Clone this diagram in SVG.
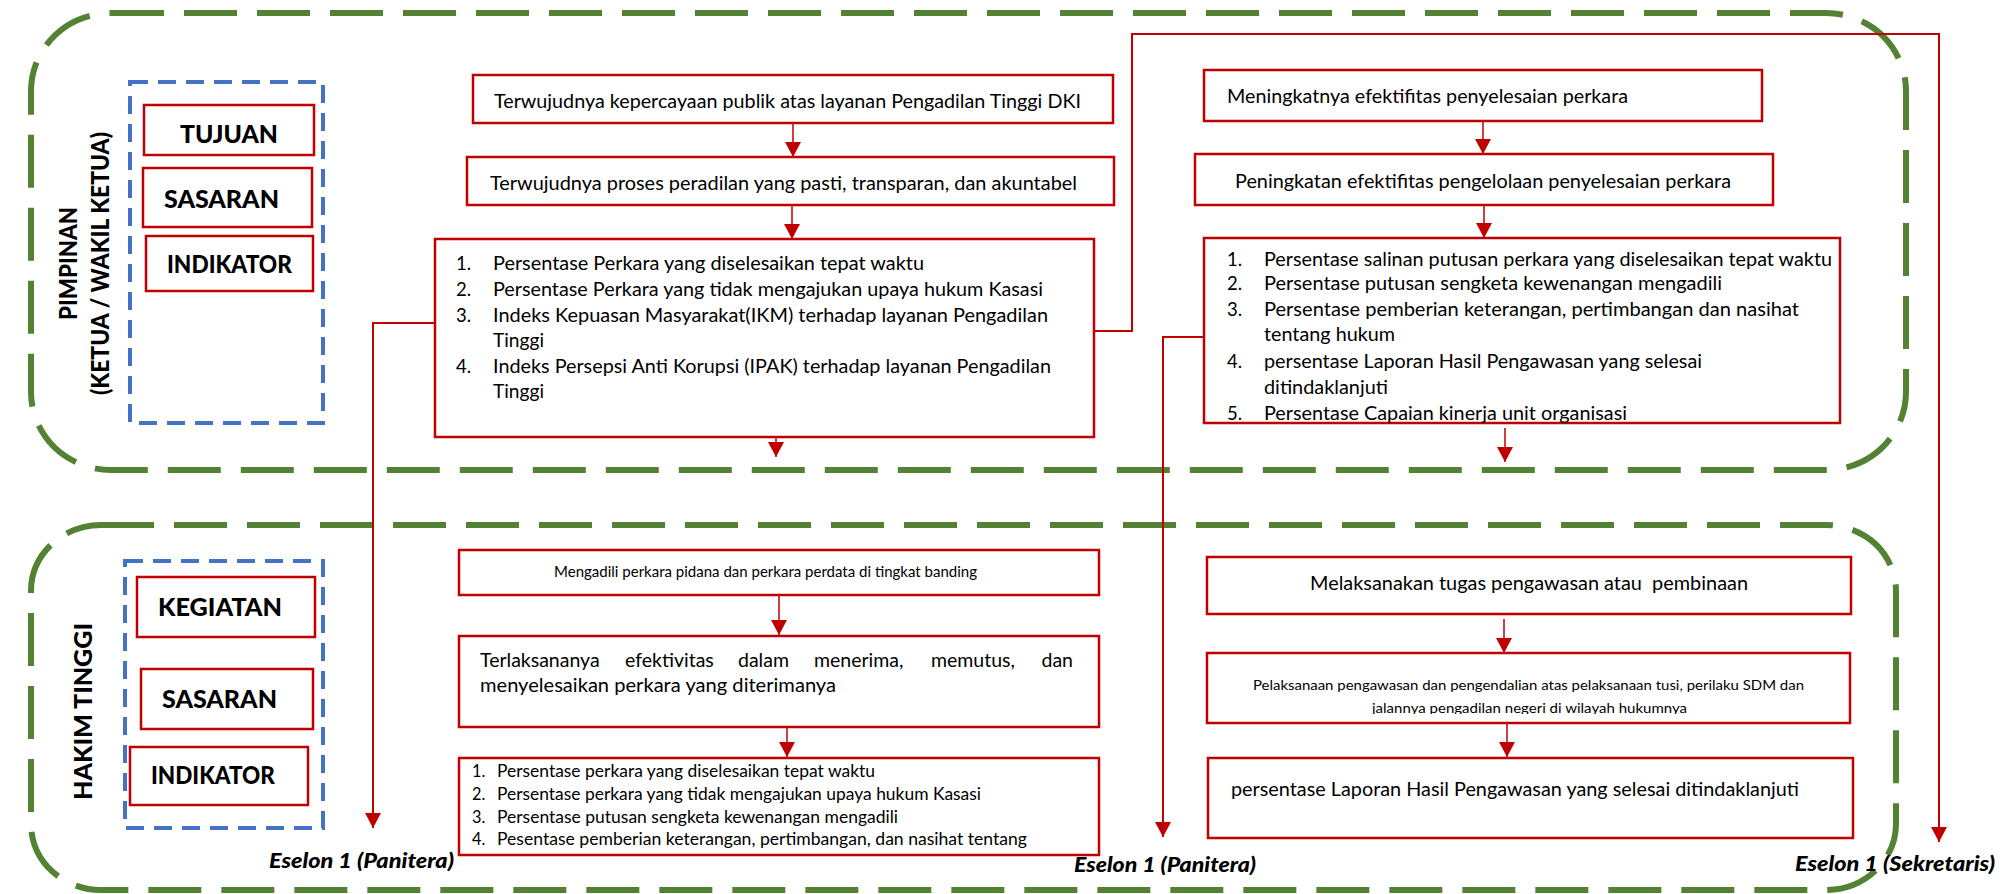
<svg xmlns="http://www.w3.org/2000/svg" width="2010" height="894" viewBox="0 0 2010 894">
<style>
.grp{fill:none;stroke:#548235;stroke-width:6;stroke-dasharray:53 20}
.blu{fill:none;stroke:#4472C4;stroke-width:4;stroke-dasharray:18 10}
.box{fill:#fff;stroke:#C00000;stroke-width:2.5}
.con{fill:none;stroke:#C00000;stroke-width:2}
.stem{fill:none;stroke:#C00000;stroke-width:1.5}
text{font-family:Lato,"Liberation Sans",sans-serif;fill:#000}
.lbl{font-weight:900;font-size:25px;text-anchor:middle}
.t20{font-size:19.5px}
.t18{font-size:18.5px}
.t16{font-size:16.3px}
.t15{font-size:15px}
.t14{font-size:14px}
.es{font-weight:900;font-style:italic;font-size:20px}
</style>
<defs>
<marker id="ah" viewBox="0 0 15 16" markerWidth="15" markerHeight="16" refX="15" refY="8" orient="auto" markerUnits="userSpaceOnUse">
<path d="M0,0 L15,8 L0,16 z" fill="#C00000"/>
</marker>
<clipPath id="c2clip"><rect x="1207" y="653" width="643" height="61"/></clipPath>
</defs>

<g id="frames">
<rect class="grp" x="31" y="13" width="1875" height="457" rx="80" ry="78"/>
<rect class="grp" x="31" y="525" width="1865" height="365" rx="70" ry="66"/>
</g>

<g id="pimpinan-label">
<text class="lbl" transform="translate(77,263.5) rotate(-90)" font-size="23" textLength="113" lengthAdjust="spacingAndGlyphs">PIMPINAN</text>
<text class="lbl" transform="translate(109,263.5) rotate(-90)" font-size="23" textLength="263" lengthAdjust="spacingAndGlyphs">(KETUA / WAKIL KETUA)</text>
</g>
<g id="hakim-label">
<text class="lbl" transform="translate(92,711.5) rotate(-90)" font-size="26" textLength="177" lengthAdjust="spacingAndGlyphs">HAKIM TINGGI</text>
</g>

<g id="legend-top">
<rect class="blu" x="130" y="82" width="193" height="341"/>
<g id="tujuan"><rect class="box" x="144" y="105" width="170" height="50"/><text class="lbl" x="229" y="143" textLength="98" lengthAdjust="spacingAndGlyphs">TUJUAN</text></g>
<g id="sasaran-top"><rect class="box" x="143" y="168" width="169" height="59"/><text class="lbl" x="221.5" y="208" textLength="115" lengthAdjust="spacingAndGlyphs">SASARAN</text></g>
<g id="indikator-top"><rect class="box" x="146" y="236" width="167" height="55"/><text class="lbl" x="229.5" y="273" textLength="125" lengthAdjust="spacingAndGlyphs">INDIKATOR</text></g>
</g>

<g id="legend-bottom">
<rect class="blu" x="125" y="561" width="198" height="267"/>
<g id="kegiatan"><rect class="box" x="137" y="577" width="178" height="60"/><text class="lbl" x="220" y="616" font-size="26" textLength="124" lengthAdjust="spacingAndGlyphs">KEGIATAN</text></g>
<g id="sasaran-bottom"><rect class="box" x="141" y="669" width="172" height="60"/><text class="lbl" x="219.5" y="708" font-size="26" textLength="115" lengthAdjust="spacingAndGlyphs">SASARAN</text></g>
<g id="indikator-bottom"><rect class="box" x="130" y="747" width="178" height="58"/><text class="lbl" x="213" y="784" font-size="26" textLength="124" lengthAdjust="spacingAndGlyphs">INDIKATOR</text></g>
</g>

<g id="connectors">
<polyline class="con" points="436,323 373,323 373,828" marker-end="url(#ah)"/>
<polyline class="con" points="1094,331 1132,331 1132,34 1939,34 1939,842" marker-end="url(#ah)"/>
<polyline class="con" points="1204,337 1163,337 1163,837" marker-end="url(#ah)"/>
<line class="stem" x1="793" y1="123" x2="793" y2="157" marker-end="url(#ah)"/>
<line class="stem" x1="792" y1="205" x2="792" y2="239" marker-end="url(#ah)"/>
<line class="stem" x1="776" y1="423" x2="776" y2="457" marker-end="url(#ah)"/>
<line class="stem" x1="1483" y1="121" x2="1483" y2="154" marker-end="url(#ah)"/>
<line class="stem" x1="1484" y1="205" x2="1484" y2="238" marker-end="url(#ah)"/>
<line class="stem" x1="1505" y1="428" x2="1505" y2="462" marker-end="url(#ah)"/>
<line class="stem" x1="779" y1="595" x2="779" y2="635" marker-end="url(#ah)"/>
<line class="stem" x1="787" y1="727" x2="787" y2="757" marker-end="url(#ah)"/>
<line class="stem" x1="1504" y1="619" x2="1504" y2="653" marker-end="url(#ah)"/>
<line class="stem" x1="1507" y1="723" x2="1507" y2="757" marker-end="url(#ah)"/>
</g>

<g id="tujuan-1">
<rect class="box" x="473" y="75" width="640" height="48"/>
<text class="t20" x="494" y="108" textLength="587" lengthAdjust="spacingAndGlyphs">Terwujudnya kepercayaan publik atas layanan Pengadilan Tinggi DKI</text>
</g>
<g id="sasaran-1">
<rect class="box" x="467" y="157" width="647" height="48"/>
<text class="t20" x="490" y="190" textLength="587" lengthAdjust="spacingAndGlyphs">Terwujudnya proses peradilan yang pasti, transparan, dan akuntabel</text>
</g>
<g id="indikator-1">
<rect class="box" x="435" y="239" width="659" height="198"/>
<g class="t18">
<text x="456" y="270">1.</text><text x="493" y="270" textLength="431" lengthAdjust="spacingAndGlyphs">Persentase Perkara yang diselesaikan tepat waktu</text>
<text x="456" y="296">2.</text><text x="493" y="296" textLength="550" lengthAdjust="spacingAndGlyphs">Persentase Perkara yang tidak mengajukan upaya hukum Kasasi</text>
<text x="456" y="322">3.</text><text x="493" y="322" textLength="555" lengthAdjust="spacingAndGlyphs">Indeks Kepuasan Masyarakat(IKM) terhadap layanan Pengadilan</text>
<text x="493" y="347" textLength="51" lengthAdjust="spacingAndGlyphs">Tinggi</text>
<text x="456" y="373">4.</text><text x="493" y="373" textLength="558" lengthAdjust="spacingAndGlyphs">Indeks Persepsi Anti Korupsi (IPAK) terhadap layanan Pengadilan</text>
<text x="493" y="398" textLength="51" lengthAdjust="spacingAndGlyphs">Tinggi</text>
</g>
</g>

<g id="tujuan-2">
<rect class="box" x="1204" y="70" width="558" height="51"/>
<text class="t20" x="1227" y="103" textLength="401" lengthAdjust="spacingAndGlyphs">Meningkatnya efektifitas penyelesaian perkara</text>
</g>
<g id="sasaran-2">
<rect class="box" x="1195" y="154" width="578" height="51"/>
<text class="t20" x="1235" y="188" textLength="496" lengthAdjust="spacingAndGlyphs">Peningkatan efektifitas pengelolaan penyelesaian perkara</text>
</g>
<g id="indikator-2">
<rect class="box" x="1204" y="238" width="636" height="185"/>
<g class="t18">
<text x="1227" y="266">1.</text><text x="1264" y="266" textLength="568" lengthAdjust="spacingAndGlyphs">Persentase salinan putusan perkara yang diselesaikan tepat waktu</text>
<text x="1227" y="290">2.</text><text x="1264" y="290" textLength="458" lengthAdjust="spacingAndGlyphs">Persentase putusan sengketa kewenangan mengadili</text>
<text x="1227" y="316">3.</text><text x="1264" y="316" textLength="535" lengthAdjust="spacingAndGlyphs">Persentase pemberian keterangan, pertimbangan dan nasihat</text>
<text x="1264" y="341" textLength="131" lengthAdjust="spacingAndGlyphs">tentang hukum</text>
<text x="1227" y="368">4.</text><text x="1264" y="368" textLength="438" lengthAdjust="spacingAndGlyphs">persentase Laporan Hasil Pengawasan yang selesai</text>
<text x="1264" y="394" textLength="124" lengthAdjust="spacingAndGlyphs">ditindaklanjuti</text>
<text x="1227" y="420">5.</text><text x="1264" y="420" textLength="363" lengthAdjust="spacingAndGlyphs">Persentase Capaian kinerja unit organisasi</text>
</g>
</g>

<g id="kegiatan-1">
<rect class="box" x="459" y="550" width="640" height="45"/>
<text class="t15" x="554" y="577" textLength="423" lengthAdjust="spacingAndGlyphs">Mengadili perkara pidana dan perkara perdata di tingkat banding</text>
</g>
<g id="sasaran-3">
<rect class="box" x="459" y="636" width="640" height="91"/>
<g class="t20">
<text x="480" y="667">Terlaksananya</text>
<text x="625" y="667">efektivitas</text>
<text x="738" y="667">dalam</text>
<text x="814" y="667">menerima,</text>
<text x="931" y="667">memutus,</text>
<text x="1073" y="667" text-anchor="end">dan</text>
<text x="480" y="692" textLength="356" lengthAdjust="spacingAndGlyphs">menyelesaikan perkara yang diterimanya</text>
</g>
</g>
<g id="indikator-3">
<rect class="box" x="459" y="758" width="640" height="97"/>
<g class="t16">
<text x="472" y="777">1.</text><text x="497" y="777" textLength="378" lengthAdjust="spacingAndGlyphs">Persentase perkara yang diselesaikan tepat waktu</text>
<text x="472" y="800">2.</text><text x="497" y="800" textLength="484" lengthAdjust="spacingAndGlyphs">Persentase perkara yang tidak mengajukan upaya hukum Kasasi</text>
<text x="472" y="823">3.</text><text x="497" y="823" textLength="401" lengthAdjust="spacingAndGlyphs">Persentase putusan sengketa kewenangan mengadili</text>
<text x="472" y="845">4.</text><text x="497" y="845" textLength="530" lengthAdjust="spacingAndGlyphs">Pesentase pemberian keterangan, pertimbangan, dan nasihat tentang</text>
</g>
</g>

<g id="kegiatan-2">
<rect class="box" x="1207" y="557" width="644" height="57"/>
<text class="t20" x="1310" y="590" xml:space="preserve" textLength="438" lengthAdjust="spacingAndGlyphs">Melaksanakan tugas pengawasan atau  pembinaan</text>
</g>
<g id="sasaran-4">
<rect class="box" x="1207" y="653" width="643" height="70"/>
<g clip-path="url(#c2clip)" class="t14">
<text x="1253" y="690" textLength="551" lengthAdjust="spacingAndGlyphs">Pelaksanaan pengawasan dan pengendalian atas pelaksanaan tusi, perilaku SDM dan</text>
<text x="1372" y="713" textLength="315" lengthAdjust="spacingAndGlyphs">jalannya pengadilan negeri di wilayah hukumnya</text>
</g>
</g>
<g id="indikator-4">
<rect class="box" x="1208" y="758" width="645" height="80"/>
<text class="t20" x="1231" y="796" textLength="568" lengthAdjust="spacingAndGlyphs">persentase Laporan Hasil Pengawasan yang selesai ditindaklanjuti</text>
</g>

<g id="eselon-labels">
<text class="es" x="269" y="868" textLength="185" lengthAdjust="spacingAndGlyphs">Eselon 1 (Panitera)</text>
<text class="es" x="1074" y="872" textLength="182" lengthAdjust="spacingAndGlyphs">Eselon 1 (Panitera)</text>
<text class="es" x="1795" y="871" textLength="200" lengthAdjust="spacingAndGlyphs">Eselon 1 (Sekretaris)</text>
</g>
</svg>
